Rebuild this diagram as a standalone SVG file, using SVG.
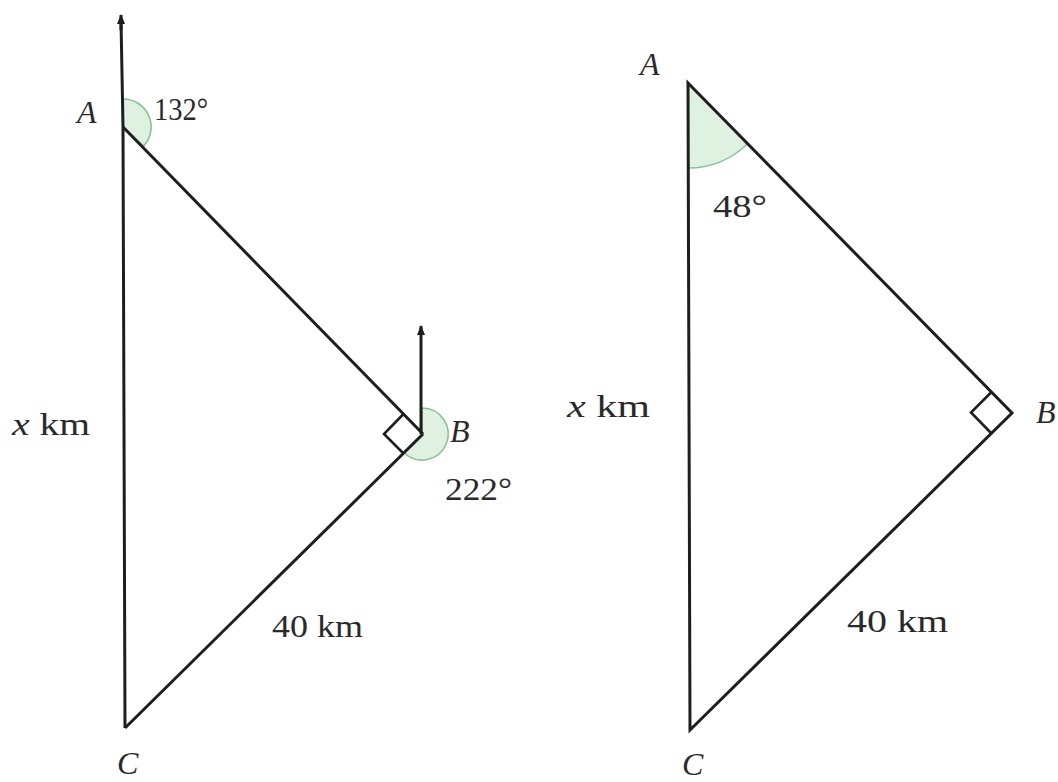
<svg xmlns="http://www.w3.org/2000/svg" width="1058" height="782" viewBox="0 0 1058 782">
<style>
.ln{stroke:#1e1e1e;stroke-width:3;fill:none;stroke-linejoin:miter}
.sq{stroke:#1e1e1e;stroke-width:2.6;fill:none}
.arc{fill:#dff1e0;stroke:#86c493;stroke-width:1.6}
.t{font-family:"Liberation Serif","Times New Roman",serif;font-size:32px;fill:#2a2a2a}
.i{font-style:italic}
</style>
<defs>
<marker id="ah" viewBox="0 0 10 10" refX="9" refY="5" markerWidth="10" markerHeight="10" markerUnits="userSpaceOnUse" orient="auto">
<path d="M0,1 L10,5 L0,9 Z" fill="#1e1e1e"/>
</marker>
</defs>
<rect width="1058" height="782" fill="#ffffff"/>

<g id="left-figure">
<g id="angle-A-left">
<path class="arc" d="M123,127 L123,99 A28,28 0 0 1 143.6,146.1 Z"/>
</g>
<g id="angle-B-left">
<path class="arc" d="M422,434 L422,408 A26,26 0 1 1 403.6,452.2 Z"/>
</g>
<g id="connectors-left">
<line class="ln" x1="121" y1="30" x2="121" y2="15" marker-end="url(#ah)"/>
<polyline class="ln" points="121,20 123,127 125,728"/>
<line class="ln" x1="123" y1="127" x2="423" y2="434"/>
<line class="ln" x1="423" y1="434" x2="125" y2="728"/>
<line class="ln" x1="421" y1="434" x2="421" y2="326" marker-end="url(#ah)"/>
<polyline class="sq" points="403.5,414 384,434 403.5,453.5"/>
</g>
<g id="labels-left">
<text class="t i" x="77" y="123">A</text>
<text class="t" x="154" y="120" textLength="54" lengthAdjust="spacingAndGlyphs">132°</text>
<text class="t" x="12" y="435" textLength="78" lengthAdjust="spacingAndGlyphs"><tspan class="i">x</tspan> km</text>
<text class="t i" x="450" y="442">B</text>
<text class="t" x="445" y="500" textLength="67" lengthAdjust="spacingAndGlyphs">222°</text>
<text class="t" x="272" y="637" textLength="91" lengthAdjust="spacingAndGlyphs">40 km</text>
<text class="t i" x="117" y="774">C</text>
</g>
</g>

<g id="right-figure">
<g id="angle-A-right">
<path class="arc" d="M688,83 L688.1,168 A85,85 0 0 0 747.5,143.7 Z"/>
</g>
<g id="connectors-right">
<polygon class="ln" points="688,83 1012,413 690,730"/>
<polyline class="sq" points="991.5,392 971,412.5 991.5,433.5"/>
</g>
<g id="labels-right">
<text class="t i" x="640" y="75">A</text>
<text class="t" x="713" y="217" textLength="54" lengthAdjust="spacingAndGlyphs">48°</text>
<text class="t" x="567" y="417" textLength="83" lengthAdjust="spacingAndGlyphs"><tspan class="i">x</tspan> km</text>
<text class="t i" x="1036" y="423">B</text>
<text class="t" x="847" y="632" textLength="101" lengthAdjust="spacingAndGlyphs">40 km</text>
<text class="t i" x="682" y="775">C</text>
</g>
</g>
</svg>
